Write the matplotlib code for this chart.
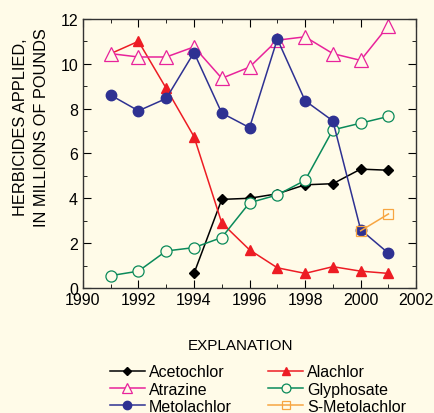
import numpy as np
import matplotlib.pyplot as plt
from matplotlib.ticker import MultipleLocator

plt.rcParams['font.family'] = ['Liberation Sans', 'DejaVu Sans']

years = np.arange(1991, 2002)
atrazine = [10.45, 10.3, 10.3, 10.75, 9.35, 9.85, 11.05, 11.2, 10.45, 10.15, 11.7]
alachlor = [10.45, 11.0, 8.9, 6.75, 2.9, 1.7, 0.9, 0.65, 0.95, 0.75, 0.65]
metolachlor = [8.6, 7.9, 8.45, 10.5, 7.8, 7.15, 11.1, 8.35, 7.45, 2.6, 1.55]
glyphosate = [0.55, 0.75, 1.65, 1.8, 2.25, 3.8, 4.15, 4.8, 7.05, 7.35, 7.65]
aceto_years = np.arange(1994, 2002)
acetochlor = [0.65, 3.95, 4.0, 4.2, 4.6, 4.65, 5.3, 5.25]
smeto_years = [2000, 2001]
s_metolachlor = [2.55, 3.3]

bg = '#FFFBE8'
fig = plt.figure(figsize=(4.34, 4.14), dpi=100, facecolor=bg)
ax = fig.add_axes([0.191, 0.302, 0.768, 0.65], facecolor=bg)

lw = 1.1
h_aceto, = ax.plot(aceto_years, acetochlor, '-D', color='black', ms=5.5, lw=lw, label='Acetochlor')
h_ala, = ax.plot(years, alachlor, '-^', color='#ED1C24', ms=7, lw=lw, label='Alachlor')
h_atr, = ax.plot(years, atrazine, '-^', color='#E8239B', mfc=bg, ms=9.5, mew=0.9, lw=lw, label='Atrazine')
h_gly, = ax.plot(years, glyphosate, '-o', color='#0A8A5A', mfc=bg, ms=8, mew=0.9, lw=lw, label='Glyphosate')
h_met, = ax.plot(years, metolachlor, '-o', color='#2E3192', ms=7.5, lw=lw, label='Metolachlor')
h_sm, = ax.plot(smeto_years, s_metolachlor, '-s', color='#F7A541', mfc='none', ms=7.5, mew=0.9, lw=lw, label='S-Metolachlor')

ax.set_xlim(1990, 2002)
ax.set_ylim(0, 12)
ax.xaxis.set_major_locator(MultipleLocator(2))
ax.xaxis.set_minor_locator(MultipleLocator(1))
ax.yaxis.set_major_locator(MultipleLocator(2))
ax.yaxis.set_minor_locator(MultipleLocator(1))
ax.tick_params(which='both', direction='in', top=True, right=True, labelsize=11.5, colors='black')
ax.tick_params(which='major', length=6)
ax.tick_params(which='minor', length=3)
ax.tick_params(axis='x', pad=3)
for s in ax.spines.values():
    s.set_color('#333333')
    s.set_linewidth(1.0)

ax.set_ylabel('HERBICIDES APPLIED,\nIN MILLIONS OF POUNDS', fontsize=11.8, linespacing=1.45)
ax.yaxis.set_label_coords(-0.102, 0.60)

fig.text(0.553, 0.164, 'EXPLANATION', ha='center', va='center', fontsize=11)
# legend filled column-wise, so order gives row-wise reading
order = [h_aceto, h_atr, h_met, h_ala, h_gly, h_sm]
leg = fig.legend(handles=order, ncol=2,
                 loc='upper left', bbox_to_anchor=(0.234, 0.137), frameon=False,
                 fontsize=11.5, handlelength=2.2, handletextpad=0.25, columnspacing=2.3,
                 labelspacing=0.15, borderpad=0, markerscale=0.8)

fig.savefig('out.png', dpi=100, facecolor=bg)
